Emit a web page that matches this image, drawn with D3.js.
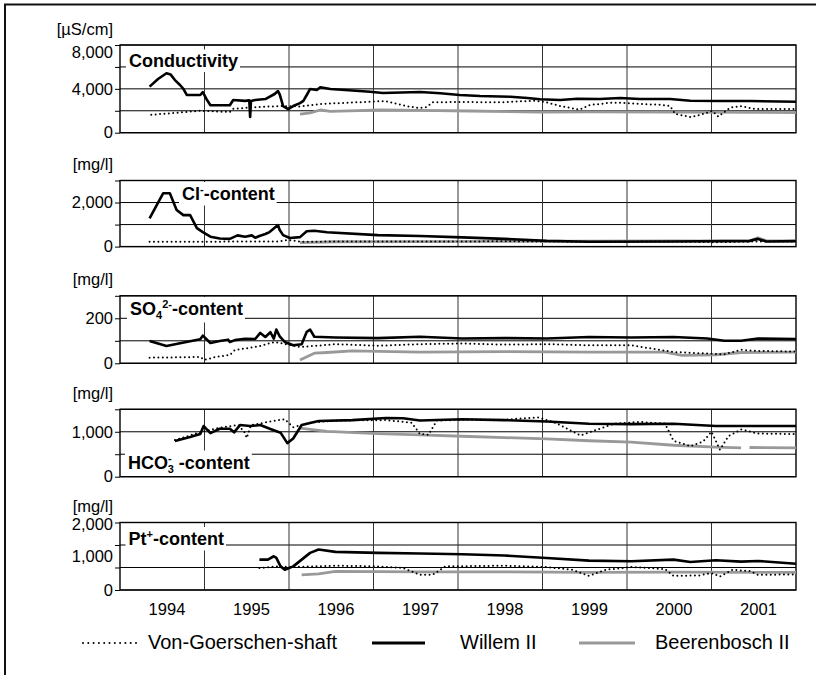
<!DOCTYPE html>
<html>
<head>
<meta charset="utf-8">
<script src="https://cdn.jsdelivr.net/npm/d3@7"></script>
<style>
  body { margin: 0; background: #fff; }
  svg { display: block; }
  text { font-family: "Liberation Sans", Arial, sans-serif; fill: #000; }
</style>
</head>
<body>
<svg id="chart" width="816" height="675"></svg>
<script>
// x axis: year labels, series are [decimal year, value]
var years = [1994, 1995, 1996, 1997, 1998, 1999, 2000, 2001]

var condVG = [[1993.82, 1640], [1994.1, 1800], [1994.4, 2000], [1994.75, 1890], [1994.79, 2190], [1995.1, 2340], [1995.34, 2430],
  [1995.58, 2400], [1995.82, 2620], [1996.17, 2740], [1996.41, 2830], [1996.59, 2890], [1996.73, 2620], [1996.88, 2370],
  [1997.0, 2250], [1997.08, 2340], [1997.15, 2770], [1997.47, 2800], [1997.95, 2770], [1998.36, 2920], [1998.48, 2800],
  [1998.66, 2430], [1998.89, 2100], [1999.01, 2530], [1999.13, 2620], [1999.25, 2740], [1999.37, 2740], [1999.6, 2620],
  [1999.84, 2550], [1999.96, 2430], [2000.02, 1710], [2000.2, 1430], [2000.31, 1620], [2000.46, 1980], [2000.53, 1460],
  [2000.67, 2280], [2000.79, 2430], [2000.96, 2160], [2001.45, 2160]]
var condW = [[1993.8, 4200], [1993.9, 4900], [1994.0, 5420], [1994.05, 5300], [1994.1, 4800], [1994.16, 4350], [1994.2, 4000],
  [1994.24, 3440], [1994.4, 3440], [1994.43, 3700], [1994.48, 2980], [1994.52, 2500], [1994.75, 2500], [1994.79, 2980],
  [1994.93, 2900], [1994.98, 2950], [1994.99, 1430], [1995.0, 2900], [1995.05, 2980], [1995.17, 3070], [1995.28, 3530],
  [1995.32, 3800], [1995.34, 3500], [1995.36, 2980], [1995.38, 2430], [1995.44, 2160], [1995.5, 2430], [1995.58, 2700],
  [1995.62, 2900], [1995.66, 3440], [1995.7, 3990], [1995.78, 3900], [1995.82, 4140], [1995.94, 3990], [1996.41, 3740],
  [1996.56, 3620], [1997.0, 3710], [1997.24, 3600], [1997.47, 3440], [1997.71, 3350], [1998.07, 3280], [1998.27, 3170],
  [1998.42, 3050], [1998.66, 2980], [1998.86, 3100], [1999.13, 3070], [1999.37, 3170], [1999.6, 3070], [1999.96, 3070],
  [2000.2, 2920], [2000.55, 2890], [2000.91, 2890], [2001.45, 2830]]
var condB = [[1995.58, 1700], [1995.7, 1800], [1995.82, 2070], [1995.94, 1950], [1996.17, 2000], [1996.53, 2070],
  [1997.0, 2040], [1997.59, 1980], [1998.42, 1890], [1999.0, 1900], [2000.0, 1890], [2001.45, 1830]]

var clVG = [[1993.8, 220], [1995.3, 230], [1995.45, 300], [1995.6, 220], [1996.0, 230], [1997.0, 230], [1998.0, 240],
  [1999.0, 220], [2000.0, 230], [2000.5, 200], [2001.0, 230], [2001.45, 230]]
var clW = [[1993.8, 1280], [1993.96, 2420], [1994.04, 2420], [1994.12, 1660], [1994.2, 1430], [1994.28, 1430], [1994.36, 840],
  [1994.43, 660], [1994.52, 450], [1994.63, 370], [1994.75, 350], [1994.84, 510], [1994.93, 450], [1995.01, 510],
  [1995.05, 400], [1995.1, 480], [1995.17, 570], [1995.22, 660], [1995.28, 850], [1995.32, 980], [1995.34, 750],
  [1995.38, 520], [1995.46, 390], [1995.58, 430], [1995.66, 700], [1995.75, 720], [1995.9, 650], [1996.5, 520],
  [1997.0, 480], [1997.5, 420], [1998.0, 350], [1998.5, 260], [1999.0, 220], [2000.0, 230], [2000.9, 260],
  [2001.0, 350], [2001.1, 230], [2001.45, 250]]
var clB = [[1995.58, 180], [1996.0, 220], [1997.0, 230], [1998.0, 240], [1999.0, 250], [2000.0, 260], [2000.9, 250],
  [2001.0, 400], [2001.1, 260], [2001.45, 260]]

var so4VG = [[1993.8, 25], [1994.4, 28], [1994.45, 15], [1994.58, 28], [1994.75, 37], [1994.81, 59], [1994.99, 69],
  [1995.11, 77], [1995.28, 95], [1995.58, 72], [1996.0, 85], [1996.5, 78], [1997.0, 85], [1997.5, 88], [1998.0, 83],
  [1998.5, 85], [1999.0, 80], [1999.5, 80], [2000.0, 50], [2000.3, 45], [2000.6, 40], [2000.8, 60], [2001.0, 55], [2001.45, 52]]
var so4W = [[1993.8, 99], [1994.0, 77], [1994.16, 89], [1994.4, 107], [1994.43, 123], [1994.52, 90], [1994.63, 99],
  [1994.73, 105], [1994.75, 95], [1994.81, 103], [1994.93, 109], [1995.05, 108], [1995.11, 135], [1995.17, 117],
  [1995.23, 138], [1995.27, 110], [1995.3, 150], [1995.34, 120], [1995.4, 95], [1995.5, 80], [1995.6, 85], [1995.66, 140],
  [1995.7, 150], [1995.75, 118], [1996.0, 115], [1996.5, 112], [1997.0, 118], [1997.5, 110], [1998.0, 112], [1998.5, 110],
  [1999.0, 117], [1999.5, 115], [2000.0, 117], [2000.4, 110], [2000.6, 100], [2000.8, 100], [2001.0, 110], [2001.45, 108]]
var so4B = [[1995.58, 15], [1995.75, 45], [1995.9, 48], [1996.2, 55], [1997.0, 50], [1998.0, 52], [1999.0, 50],
  [1999.9, 50], [2000.1, 35], [2000.5, 38], [2000.8, 48], [2001.45, 50]]

var hcoVG = [[1994.1, 815], [1994.4, 990], [1994.6, 1080], [1994.85, 1150], [1994.92, 1000], [1994.95, 860], [1995.0, 1150],
  [1995.3, 1250], [1995.4, 1280], [1995.5, 1100], [1995.7, 1200], [1996.0, 1250], [1996.6, 1260], [1996.9, 1200],
  [1997.0, 950], [1997.1, 930], [1997.2, 1250], [1997.6, 1270], [1998.0, 1270], [1998.4, 1320], [1998.6, 1200],
  [1998.9, 920], [1999.1, 1050], [1999.3, 1180], [1999.6, 1220], [1999.9, 1180], [2000.0, 800], [2000.2, 680],
  [2000.35, 780], [2000.45, 1000], [2000.55, 600], [2000.65, 900], [2000.8, 1050], [2001.0, 960], [2001.45, 950]]
var hcoW = [[1994.1, 793], [1994.28, 882], [1994.4, 949], [1994.44, 1127], [1994.52, 971], [1994.63, 1067], [1994.75, 1067],
  [1994.8, 987], [1994.87, 1149], [1994.99, 1127], [1995.11, 1149], [1995.23, 1060], [1995.35, 980], [1995.43, 747],
  [1995.5, 850], [1995.6, 1150], [1995.8, 1238], [1996.2, 1260], [1996.6, 1305], [1996.8, 1300], [1997.0, 1250],
  [1997.5, 1280], [1998.0, 1260], [1998.5, 1230], [1999.0, 1180], [1999.5, 1170], [2000.0, 1180], [2000.5, 1130],
  [2001.0, 1130], [2001.45, 1127]]
var hcoB = [[1995.58, 1080], [1995.9, 1010], [1996.5, 960], [1997.0, 930], [1997.5, 900], [1998.0, 870], [1998.5, 840],
  [1999.0, 800], [1999.5, 770], [2000.0, 700], [2000.5, 660], [2000.8, 640], null, [2000.9, 650], [2001.45, 640]]

var ptVG = [[1995.1, 650], [1995.3, 700], [1995.5, 680], [1996.0, 720], [1996.5, 700], [1996.8, 650], [1997.0, 450],
  [1997.15, 450], [1997.3, 700], [1998.0, 720], [1998.5, 680], [1998.8, 600], [1999.0, 420], [1999.2, 600], [1999.5, 680],
  [1999.9, 620], [2000.0, 420], [2000.3, 430], [2000.45, 500], [2000.55, 400], [2000.7, 600], [2000.9, 560], [2001.0, 450],
  [2001.45, 460]]
var ptW = [[1995.1, 900], [1995.2, 900], [1995.27, 1000], [1995.3, 950], [1995.35, 700], [1995.4, 600], [1995.5, 700],
  [1995.6, 900], [1995.7, 1100], [1995.8, 1200], [1996.0, 1130], [1996.5, 1100], [1997.0, 1080], [1997.5, 1060],
  [1998.0, 1020], [1998.5, 950], [1999.0, 870], [1999.5, 850], [2000.0, 900], [2000.2, 830], [2000.5, 880], [2000.8, 840],
  [2001.0, 860], [2001.45, 780]]
var ptB = [[1995.6, 450], [1995.8, 480], [1996.0, 550], [1997.0, 540], [1998.0, 540], [1999.0, 520], [2000.0, 530],
  [2001.0, 520], [2001.45, 520]]

var legendNames = ['Von-Goerschen-shaft', 'Willem II', 'Beerenbosch II']

var svg = d3.select('#chart')
var plotLeft = 120
var plotRight = 796

var x = d3.scaleLinear().domain([1993.45, 2001.45]).range([plotLeft, plotRight])

var styles = [
  { stroke: '#000', width: 2, dash: '0,4.4', cap: 'round' },
  { stroke: '#000', width: 2.6, dash: null, cap: 'butt' },
  { stroke: '#999', width: 2.8, dash: null, cap: 'butt' }
]

var panels = [
  { top: 45, bottom: 132.7, max: 8000, grid: [0, 2000, 4000, 6000, 8000], labels: [0, 4000, 8000], topShift: 7,
    unit: '[\u00b5S/cm]', title: [['Conductivity', 0]], tx: 129, ty: 66.5, series: [condVG, condW, condB] },
  { top: 180.5, bottom: 246.6, max: 3000, grid: [0, 1000, 2000, 3000], labels: [0, 2000], topShift: 0,
    unit: '[mg/l]', title: [['Cl', 0], ['-', -7], ['-content', 0]], tx: 182, ty: 200, series: [clVG, clW, clB] },
  { top: 295.8, bottom: 363.3, max: 300, grid: [0, 100, 200, 300], labels: [0, 200], topShift: 0,
    unit: '[mg/l]', title: [['SO', 0], ['4', 4], ['2-', -7], ['-content', 0]], tx: 130, ty: 315, series: [so4VG, so4W, so4B] },
  { top: 409.3, bottom: 476.7, max: 1500, grid: [0, 500, 1000, 1500], labels: [0, 1000], topShift: 0,
    unit: '[mg/l]', title: [['HCO', 0], ['-', -7], ['3', 4, -4], [' -content', 0]], tx: 128, ty: 468.5, series: [hcoVG, hcoW, hcoB] },
  { top: 522.5, bottom: 590, max: 2000, grid: [0, 667, 1333, 2000], labels: [0, 1000, 2000], topShift: 2,
    unit: '[mg/l]', title: [['Pt', 0], ['+', -7], ['-content', 0]], tx: 128.5, ty: 545, series: [ptVG, ptW, ptB] }
]

// outer frame (only top and left edge are in view)
svg.append('path')
  .attr('d', 'M5,675V4.5H816')
  .attr('fill', 'none')
  .attr('stroke', '#111')
  .attr('stroke-width', 2)

panels.forEach(function (p, i) {
  var y = d3.scaleLinear().domain([0, p.max]).range([p.bottom, p.top])
  var g = svg.append('g')

  g.selectAll('.hgrid').data(p.grid).enter().append('line')
    .attr('x1', plotLeft).attr('x2', plotRight)
    .attr('y1', function (d) { return y(d) })
    .attr('y2', function (d) { return y(d) })
    .attr('stroke', '#000').attr('stroke-width', 1)

  g.selectAll('.vgrid').data(years.slice(0, 7)).enter().append('line')
    .attr('x1', function (d) { return x(d + 0.45) })
    .attr('x2', function (d) { return x(d + 0.45) })
    .attr('y1', p.top).attr('y2', p.bottom)
    .attr('stroke', '#333').attr('stroke-width', 1)

  g.append('rect')
    .attr('x', plotLeft).attr('y', p.top)
    .attr('width', plotRight - plotLeft).attr('height', p.bottom - p.top)
    .attr('fill', 'none').attr('stroke', '#000').attr('stroke-width', 1.4)

  // tick marks
  g.append('g')
    .attr('transform', 'translate(' + plotLeft + ',0)')
    .call(d3.axisLeft(y).tickValues(p.grid).tickSize(5).tickFormat(''))
    .call(function (a) { a.select('.domain').remove() })
    .selectAll('line').attr('stroke', '#000')

  // tick labels
  var lab = g.append('g')
    .attr('transform', 'translate(' + plotLeft + ',0)')
    .call(d3.axisLeft(y).tickValues(p.labels).tickSize(0).tickPadding(7).tickFormat(d3.format(',')))
  lab.select('.domain').remove()
  lab.selectAll('text')
    .attr('font-size', 16.5)
    .attr('font-family', '"Liberation Sans", Arial, sans-serif')
    .attr('fill', '#000')
    .attr('y', function (d) { return d === p.max ? p.topShift : 0 })

  g.append('text')
    .attr('x', 113).attr('y', p.top - 10.5)
    .attr('text-anchor', 'end')
    .attr('font-size', 16.5)
    .text(p.unit)

  // panel title on a white box
  var t = g.append('text')
    .attr('x', p.tx).attr('y', p.ty)
    .attr('font-size', 18).attr('font-weight', 'bold')
  var shift = 0
  p.title.forEach(function (part) {
    var s = t.append('tspan').text(part[0]).attr('dy', part[1] - shift)
    if (part[1] !== 0) s.attr('font-size', 11)
    if (part[2]) s.attr('dx', part[2])
    shift = part[1]
  })
  var bb = t.node().getBBox()
  g.insert('rect', function () { return t.node() })
    .attr('x', bb.x - 3).attr('y', bb.y - 1)
    .attr('width', bb.width + 5).attr('height', bb.height + 2.5)
    .attr('fill', '#fff')

  var line = d3.line()
    .defined(function (d) { return d !== null })
    .x(function (d) { return x(d[0]) })
    .y(function (d) { return y(d[1]) })

  // grey first, then dotted and black on top
  ;[2, 0, 1].forEach(function (k) {
    var st = styles[k]
    g.append('path')
      .attr('d', line(p.series[k]))
      .attr('fill', 'none')
      .attr('stroke', st.stroke)
      .attr('stroke-width', st.width)
      .attr('stroke-dasharray', st.dash)
      .attr('stroke-linecap', st.cap)
      .attr('stroke-linejoin', 'round')
  })

  if (i === panels.length - 1) {
    var xa = g.append('g')
      .attr('transform', 'translate(0,' + p.bottom + ')')
      .call(d3.axisBottom(x).tickValues(years).tickSize(0).tickPadding(13.5).tickFormat(d3.format('d')))
    xa.select('.domain').remove()
    xa.selectAll('text')
      .attr('font-size', 16.5)
      .attr('font-family', '"Liberation Sans", Arial, sans-serif')
      .attr('fill', '#000')
  }
})

// legend
var legendLines = [[83, 137], [372, 425], [579, 635]]
var legendText = [148, 460, 655]
var lg = svg.append('g')
legendNames.forEach(function (name, k) {
  var st = styles[k]
  lg.append('line')
    .attr('x1', legendLines[k][0]).attr('x2', legendLines[k][1])
    .attr('y1', 643).attr('y2', 643)
    .attr('stroke', st.stroke)
    .attr('stroke-width', k === 0 ? 2 : 3)
    .attr('stroke-dasharray', k === 0 ? '0,5.3' : null)
    .attr('stroke-linecap', st.cap)
  lg.append('text')
    .attr('x', legendText[k]).attr('y', 649)
    .attr('font-size', 20)
    .text(name)
})
</script>
</body>
</html>
